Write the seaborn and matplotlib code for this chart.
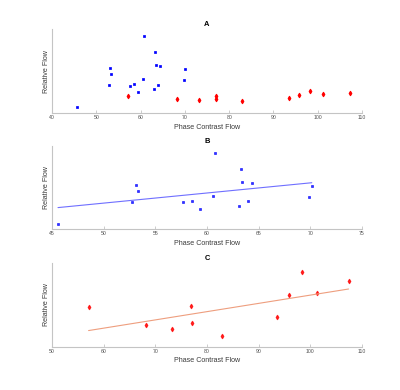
"""Phase contrast vs relative flow: three stacked scatter panels (A, B, C)."""
import matplotlib
matplotlib.use("Agg")
import matplotlib.pyplot as plt
import pandas as pd
import seaborn as sns

sns.set_theme(style="white")
plt.rcParams["font.family"] = ["Liberation Sans", "DejaVu Sans"]

# blue group
blue_pc = [45.58, 52.79, 53.14, 53.37, 57.68, 58.58, 59.35, 60.61,
           60.77, 63.09, 63.25, 63.41, 63.93, 64.34, 69.85, 70.14]
blue_rel = [0.071, 0.333, 0.532, 0.468, 0.329, 0.345, 0.254, 0.401,
            0.925, 0.286, 0.730, 0.579, 0.341, 0.560, 0.389, 0.524]

# red group
red_pc = [57.08, 68.2, 73.2, 76.98, 77.1, 82.97, 93.46, 95.78, 98.36, 101.3, 107.4]
red_rel = [0.1997, 0.1674, 0.1596, 0.2009, 0.1704, 0.1470, 0.1812, 0.2213,
           0.2620, 0.2237, 0.2452]

blue = pd.DataFrame({"pc": blue_pc, "rel": blue_rel})
red = pd.DataFrame({"pc": red_pc, "rel": red_rel})

SPINE = "#c4c4c4"
TXT = "#3a3a3a"
BLUE_KW = {"s": 4.0, "linewidths": 0.5, "edgecolors": "blue"}
RED_KW = {"s": 4.5, "linewidths": 0.9, "edgecolors": "red"}


def style(ax, title, xticks, xlim, ylim):
    ax.set_xlim(*xlim)
    ax.set_ylim(*ylim)
    ax.set_xticks(xticks)
    ax.set_yticks([])
    ax.set_title(title, fontsize=5.4, fontweight="bold", pad=2, color="black")
    ax.set_xlabel("Phase Contrast Flow", fontsize=5.1, labelpad=2.6, color=TXT)
    ax.set_ylabel("Relative Flow", fontsize=5.1, labelpad=1.2, color=TXT)
    ax.tick_params(axis="x", direction="in", length=2.5, width=0.6, color=SPINE,
                   labelsize=3.7, labelcolor="#505050", pad=1.5, bottom=True)
    for side in ["top", "right"]:
        ax.spines[side].set_visible(False)
    for side in ["left", "bottom"]:
        ax.spines[side].set_color(SPINE)
        ax.spines[side].set_linewidth(0.8)


fig = plt.figure(figsize=(4.0, 3.9), dpi=100)
axA = fig.add_axes([0.13, 0.710, 0.775, 0.215])
axB = fig.add_axes([0.13, 0.412, 0.775, 0.213])
axC = fig.add_axes([0.13, 0.111, 0.775, 0.214])

# A: both groups
sns.scatterplot(data=blue, x="pc", y="rel", ax=axA, color="blue", marker="s", **BLUE_KW)
sns.scatterplot(data=red, x="pc", y="rel", ax=axA, color="red", marker="d", **RED_KW)
style(axA, "A", range(40, 111, 10), (40, 110), (0, 1.0))

# B: blue group with fit
sns.regplot(data=blue, x="pc", y="rel", ax=axB, ci=None, marker="s",
            scatter_kws={"color": "blue", **BLUE_KW},
            line_kws={"color": "#6f6fff", "linewidth": 0.8})
style(axB, "B", range(45, 76, 5), (45, 75), (0.008, 1.0))

# C: red group with fit
sns.regplot(data=red, x="pc", y="rel", ax=axC, ci=None, marker="d",
            scatter_kws={"color": "red", **RED_KW},
            line_kws={"color": "#ee9e7e", "linewidth": 0.8})
style(axC, "C", range(50, 111, 10), (50, 110), (0.128, 0.278))

fig.savefig("out.png", dpi=100)
